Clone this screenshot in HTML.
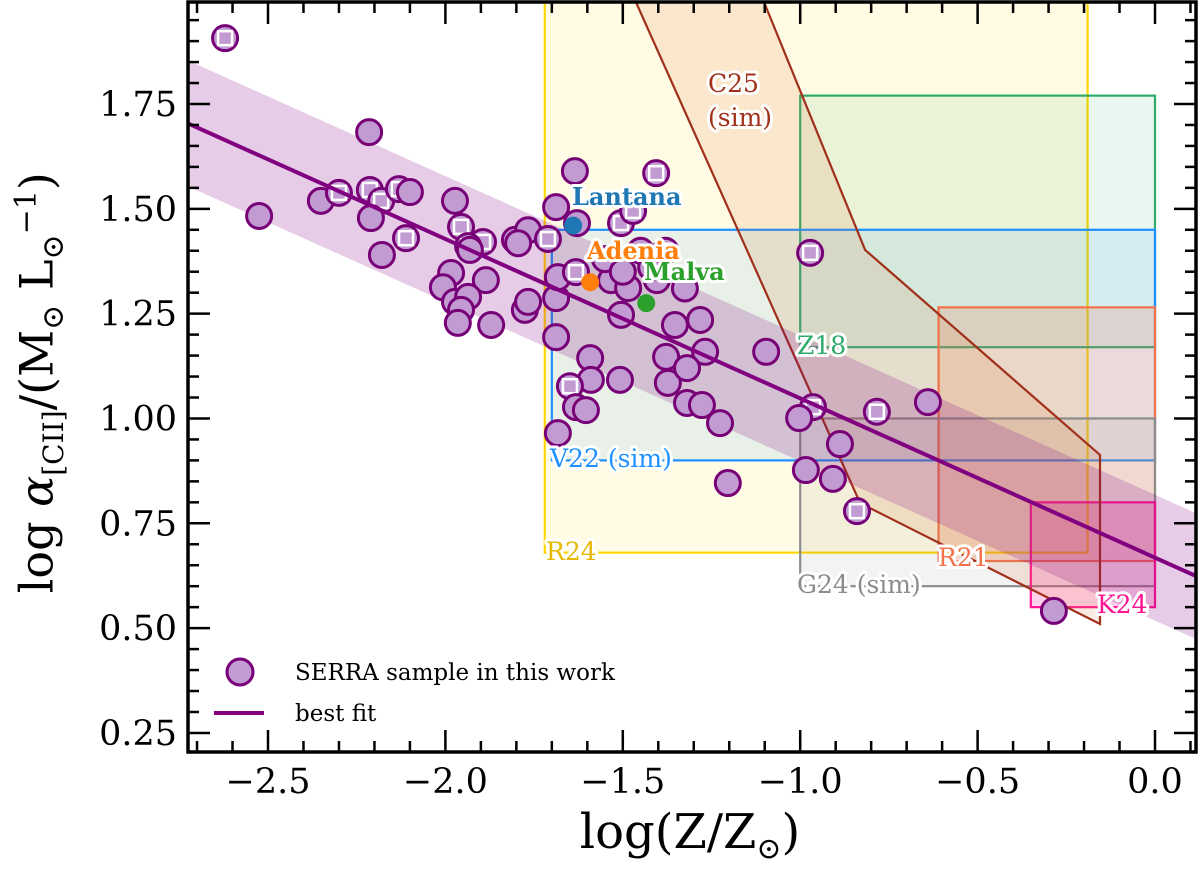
<!DOCTYPE html>
<html><head><meta charset="utf-8"><style>
body{margin:0;background:#fff}
svg text{font-family:"DejaVu Serif","Liberation Serif",serif}
</style></head><body>
<svg id="c" width="1200" height="875" xmlns="http://www.w3.org/2000/svg"></svg>
<script>
const xTicks=[-2.5,-2.0,-1.5,-1.0,-0.5,0.0];
const xTickLabels=["\u22122.5","\u22122.0","\u22121.5","\u22121.0","\u22120.5","0.0"];
const yTicks=[0.25,0.5,0.75,1.0,1.25,1.5,1.75];
const yTickLabels=["0.25","0.50","0.75","1.00","1.25","1.50","1.75"];
const ptX=[-2.621,-2.215,-2.525,-2.351,-2.300,-2.213,-2.181,-2.210,-2.131,-2.100,-2.111,-2.179,-1.973,-1.956,-1.894,-1.936,-1.931,-1.804,-1.767,-1.795,-1.711,-1.984,-2.007,-1.886,-1.973,-1.936,-1.956,-1.965,-1.871,-1.776,-1.767,-1.688,-1.688,-1.635,-1.688,-1.629,-1.406,-1.505,-1.471,-1.683,-1.632,-1.533,-1.485,-1.505,-1.353,-1.378,-1.592,-1.590,-1.508,-1.649,-1.632,-1.604,-1.683,-1.373,-1.282,-1.268,-1.319,-1.319,-1.277,-1.226,-1.096,-0.972,-0.964,-1.003,-0.784,-0.640,-0.888,-0.984,-0.908,-1.204,-0.840,-1.325,-1.404,-0.285,-1.55,-1.45,-1.42,-1.50,-1.38];
const ptY=[1.907,1.683,1.483,1.519,1.538,1.545,1.519,1.478,1.547,1.540,1.430,1.390,1.519,1.457,1.421,1.411,1.402,1.426,1.449,1.418,1.428,1.347,1.313,1.330,1.278,1.290,1.259,1.228,1.223,1.259,1.278,1.194,1.287,1.590,1.504,1.466,1.585,1.466,1.495,1.337,1.349,1.330,1.311,1.247,1.223,1.147,1.144,1.092,1.092,1.077,1.027,1.020,0.965,1.085,1.235,1.159,1.120,1.037,1.032,0.989,1.159,1.395,1.027,1.001,1.016,1.039,0.939,0.877,0.856,0.846,0.779,1.310,1.330,0.541,1.38,1.40,1.36,1.35,1.40];
const ptSq=[1,0,0,0,1,1,1,0,1,0,1,0,0,1,1,1,0,0,0,0,1,0,0,0,0,0,0,0,0,0,0,0,0,0,0,0,1,1,1,0,1,0,0,0,0,0,0,0,0,1,0,0,0,0,0,0,0,0,0,0,0,1,1,0,1,0,0,0,0,0,1,0,0,0,0,0,0,0,1];
const fitA=0.668, fitB=-0.38, fitSig=0.15;
const galNames=["Lantana","Adenia","Malva"];
const galX=[-1.640,-1.592,-1.434];
const galY=[1.460,1.325,1.275];
const galCol=["#1f77b4","#ff7f0e","#2ca02c"];
const boxNames=["R24","Z18","V22 (sim)","R21","G24 (sim)","K24"];
const boxX0=[-1.72,-1.0,-1.7,-0.61,-1.0,-0.35];
const boxX1=[-0.19,0.0,0.0,0.0,0.0,0.0];
const boxY0=[0.68,1.17,0.90,0.66,0.60,0.55];
const boxY1=[2.1,1.77,1.45,1.265,1.0,0.80];
const boxCol=["#ffd700","#2eaa6a","#1e90ff","#f4714a","#8c8c8c","#ff1493"];
const boxAlpha=[0.1,0.1,0.1,0.2,0.1,0.2];
const c25X=[-1.463,-1.102,-0.817,-0.155,-0.155,-0.831];
const c25Y=[1.993,1.993,1.402,0.913,0.510,0.798];

const L=188,R=1196,T=2,B=752;
const sx=v=>1155+354.8*v, sy=v=>104+(1.75-v)*419.3;
const svg=document.getElementById('c');
const NS='http://www.w3.org/2000/svg';
function mk(tag,attrs,parent){const e=document.createElementNS(NS,tag);for(const k in attrs)e.setAttribute(k,attrs[k]);(parent||svg).appendChild(e);return e;}
const defs=mk('defs',{});
const cp=mk('clipPath',{id:'cl'},defs);mk('rect',{x:L,y:T,width:R-L,height:B-T},cp);
const g=mk('g',{'clip-path':'url(#cl)'});


for(let i=0;i<boxNames.length;i++){
  const r=mk('rect',{x:sx(boxX0[i]),y:sy(boxY1[i]),width:sx(boxX1[i])-sx(boxX0[i]),height:sy(boxY0[i])-sy(boxY1[i]),fill:boxCol[i],'fill-opacity':boxAlpha[i],stroke:boxCol[i],'stroke-width':2.2},g);
  
  
}
const poly=mk('polygon',{points:c25X.map((x,i)=>sx(x)+','+sy(c25Y[i])).join(' '),fill:'#e07a3a','fill-opacity':0.15,stroke:'#a0301a','stroke-width':2.2},g);


const xa=-2.8,xb=0.2;
const band=mk('polygon',{points:[[xa,fitA+fitB*xa+fitSig],[xb,fitA+fitB*xb+fitSig],[xb,fitA+fitB*xb-fitSig],[xa,fitA+fitB*xa-fitSig]].map(p=>sx(p[0])+','+sy(p[1])).join(' '),fill:'#800080','fill-opacity':0.2},g);


for(let i=0;i<ptX.length;i++){
  const c=mk('circle',{cx:sx(ptX[i]),cy:sy(ptY[i]),r:12.5,fill:'#c39bd3',stroke:'#770077','stroke-width':3},g);
  
  
  if(ptSq[i]){const s=mk('rect',{x:sx(ptX[i])-7,y:sy(ptY[i])-7,width:14,height:14,fill:'#c39bd3',stroke:'#fff','stroke-width':2.5},g);
  
  }
}
const fl=mk('line',{x1:sx(xa),y1:sy(fitA+fitB*xa),x2:sx(xb),y2:sy(fitA+fitB*xb),stroke:'#800080','stroke-width':4},g);


for(let i=0;i<3;i++){
  const c=mk('circle',{cx:sx(galX[i]),cy:sy(galY[i]),r:9,fill:galCol[i]},g);
  
  
}
function lab(txt,x,y,col,opts){const t=mk('text',Object.assign({x:x,y:y,fill:col,'font-size':25,stroke:'#fff','stroke-width':6,'paint-order':'stroke','stroke-linejoin':'round'},opts||{}));t.textContent=txt;return t;}
const galLab=[[572,205],[587,259],[644,280]];
for(let i=0;i<3;i++){const t=lab(galNames[i],galLab[i][0],galLab[i][1],galCol[i],{'font-weight':'bold','font-size':24,'font-family':'DejaVu Sans, Liberation Sans, sans-serif'});
}
const rl=[["C25",708,92,'#a0301a'],["(sim)",708,126,'#a0301a'],["Z18",797,354,'#2eaa6a'],["V22 (sim)",550,467,'#1e90ff'],["R24",546,560,'#e6b800'],["R21",938,566,'#f4714a'],["G24 (sim)",797,593,'#8c8c8c'],["K24",1097,613,'#ff1493']];
rl.forEach(r=>{const t=lab(r[0],r[1],r[2],r[3]);});
const ax=mk('g',{});


mk('rect',{x:L,y:T,width:R-L,height:B-T,fill:'none',stroke:'#000','stroke-width':3.5},ax);
for(let v=-2.7;v<=0.1001;v+=0.1){const x=sx(v);const major=Math.abs(v*2-Math.round(v*2))<1e-6;const len=major?22:11;
 mk('line',{x1:x,y1:B,x2:x,y2:B-len,stroke:'#000','stroke-width':2.5},ax);mk('line',{x1:x,y1:T,x2:x,y2:T+len,stroke:'#000','stroke-width':2.5},ax);}
for(let v=0.25;v<=1.99;v+=0.05){const y=sy(v);const major=Math.abs(v*4-Math.round(v*4))<1e-6;const len=major?22:11;
 mk('line',{x1:L,y1:y,x2:L+len,y2:y,stroke:'#000','stroke-width':2.5},ax);mk('line',{x1:R,y1:y,x2:R-len,y2:y,stroke:'#000','stroke-width':2.5},ax);}
xTicks.forEach((v,i)=>{const t=mk('text',{x:sx(v),y:793,'font-size':35,'text-anchor':'middle'},ax);t.textContent=xTickLabels[i];
 });
yTicks.forEach((v,i)=>{const t=mk('text',{x:177,y:sy(v)+12,'font-size':35,'text-anchor':'end'},ax);t.textContent=yTickLabels[i];
 });
const lg=mk('g',{});


mk('circle',{cx:240,cy:672,r:13,fill:'#c39bd3',stroke:'#770077','stroke-width':3},lg);
let t=mk('text',{x:295,y:680,'font-size':23},lg);t.textContent='SERRA sample in this work';

mk('line',{x1:214,y1:713,x2:264,y2:713,stroke:'#800080','stroke-width':4},lg);
t=mk('text',{x:295,y:721,'font-size':23},lg);t.textContent='best fit';

</script>
<div style="position:absolute;left:520px;top:804px;width:340px;text-align:center;font:48px 'DejaVu Serif',serif">log(Z/Z<sub style="font-size:30px">⊙</sub>)</div>
<div style="position:absolute;left:-200px;top:352px;width:480px;text-align:center;transform:rotate(-90deg);font:46px 'DejaVu Serif',serif;white-space:nowrap">log <i>α</i><sub style="font-size:28px">[CII]</sub>/(M<sub style="font-size:30px">⊙</sub> L<sub style="font-size:30px">⊙</sub><sup style="font-size:30px">−1</sup>)</div>
</body></html>
